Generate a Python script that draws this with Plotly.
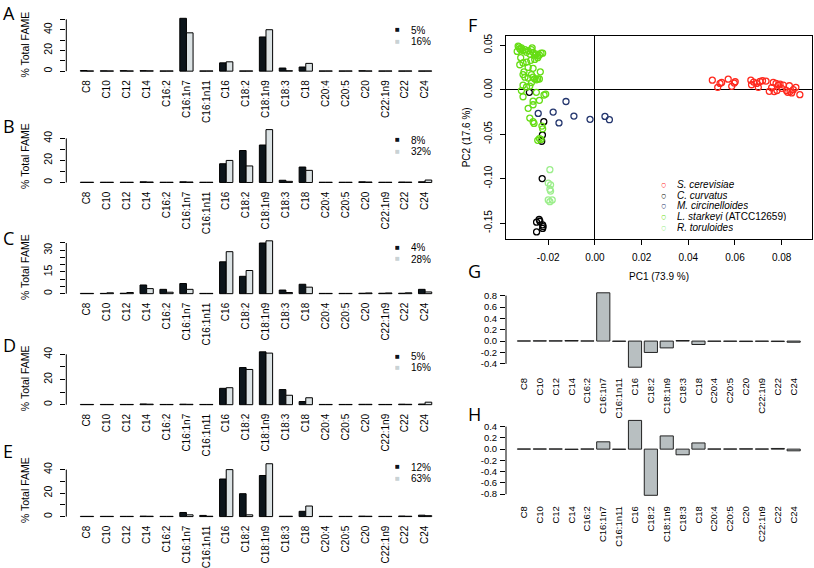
import plotly.graph_objects as go

W, H = 814, 568

# ---------------- data ----------------
categories = ["C8", "C10", "C12", "C14", "C16:2", "C16:1n7", "C16:1n11", "C16", "C18:2",
              "C18:1n9", "C18:3", "C18", "C20:4", "C20:5", "C20", "C22:1n9", "C22", "C24"]

A_labels = ["5%", "16%"]
A_low = [0.6, 0.3, 0.5, 0.5, 0.2, 51, 0.2, 8, 0.2, 33, 3, 4, 0.2, 0.2, 0.4, 0.2, 0.2, 0.2]
A_high = [0.2, 0.2, 0.2, 0.3, 0.2, 37, 0.2, 9, 0.2, 40, 0.4, 7.5, 0.2, 0.2, 0.2, 0.2, 0.2, 0.2]

B_labels = ["8%", "32%"]
B_low = [0.2, 0.2, 0.2, 0.6, 0.2, 0.6, 0.2, 17, 29, 34, 2, 14, 0.2, 0.2, 0.6, 0.2, 0.4, 0.6]
B_high = [0.2, 0.2, 0.2, 0.4, 0.2, 0.4, 0.2, 20, 15, 48, 1, 11, 0.2, 0.2, 0.4, 0.2, 0.3, 2.2]

C_labels = ["4%", "28%"]
C_low = [0.2, 0.2, 0.3, 6, 3, 7, 0.2, 22, 12, 35, 2.5, 6.5, 0.2, 0.2, 0.3, 0.3, 0.3, 3]
C_high = [0.2, 0.6, 0.8, 3.5, 1, 3, 0.2, 29, 16, 36.5, 0.8, 4.5, 0.2, 0.2, 0.5, 0.5, 0.6, 1.2]

D_labels = ["5%", "16%"]
D_low = [0.2, 0.2, 0.2, 0.6, 0.2, 0.4, 0.2, 13, 29.5, 42, 12, 2.5, 0.2, 0.2, 0.3, 0.2, 0.4, 0.5]
D_high = [0.2, 0.2, 0.2, 0.4, 0.2, 0.3, 0.2, 13.5, 28, 41, 7.5, 5.5, 0.2, 0.2, 0.3, 0.2, 0.3, 2]

E_labels = ["12%", "63%"]
E_low = [0.2, 0.2, 0.2, 0.4, 0.2, 3.5, 1, 32, 19.5, 35, 0.3, 4.5, 0.2, 0.2, 0.4, 0.2, 0.5, 1.2]
E_high = [0.2, 0.2, 0.2, 0.3, 0.2, 1.5, 0.3, 40, 1.5, 45, 0.3, 9, 0.2, 0.2, 0.3, 0.2, 0.3, 0.8]

A_ticks = [0, 10, 20, 30, 40, 50]
B_ticks = [0, 10, 20, 30, 40]
C_ticks = [0, 5, 10, 15, 20, 25, 30, 35]
D_ticks = [0, 10, 20, 30, 40]
E_ticks = [0, 10, 20, 30, 40]
A_ticklabels = ["0", "", "20", "", "40", ""]
B_ticklabels = ["0", "", "20", "", "40"]
C_ticklabels = ["0", "", "", "15", "", "", "30", ""]
D_ticklabels = ["0", "", "20", "", "40"]
E_ticklabels = ["0", "", "20", "", "40"]

# PCA scores (F)
species = ["S. cerevisiae", "C. curvatus", "M. circinelloides", "L. starkeyi", "R. toruloides"]
species_suffix = ["", "", "", " (ATCC12659)", ""]

scer_pc1 = [0.0503, 0.0526, 0.0536, 0.0543, 0.0571, 0.0586, 0.0597, 0.0601, 0.0668, 0.0671,
            0.0680, 0.0693, 0.0700, 0.0707, 0.0718, 0.0733, 0.0747, 0.0757, 0.0764, 0.0768,
            0.0776, 0.0780, 0.0786, 0.0793, 0.0800, 0.0807, 0.0821, 0.0826, 0.0833, 0.0836,
            0.0843, 0.0850, 0.0861, 0.0878]
scer_pc2 = [0.0107, 0.0026, 0.0070, 0.0081, 0.0118, 0.0037, 0.0074, 0.0089, 0.0107, 0.0055,
            0.0085, 0.0070, 0.0026, 0.0092, 0.0100, 0.0096, -0.0019, 0.0022, 0.0081, -0.0022,
            0.0070, -0.0010, 0.0052, 0.0063, 0.0015, 0.0052, -0.0011, -0.0030, 0.0044, -0.0022,
            -0.0037, 0.0000, 0.0026, -0.0056]

ccur_pc1 = [-0.0281, -0.0219, -0.0225, -0.0228, -0.0226, -0.0239, -0.0250, -0.0236, -0.0224,
            -0.0222, -0.0224, -0.0250]
ccur_pc2 = [-0.003, -0.036, -0.051, -0.058, -0.100, -0.146, -0.149, -0.148, -0.152,
            -0.154, -0.156, -0.160]

mcir_pc1 = [-0.0243, -0.0179, -0.0154, -0.0124, -0.0090, -0.0021, 0.0043, 0.0062]
mcir_pc2 = [-0.0267, -0.0252, -0.0374, -0.0133, -0.0297, -0.0334, -0.0301, -0.0338]

lsta_pc1 = [-0.0329, -0.0325, -0.0322, -0.0318, -0.0333, -0.0315, -0.0308, -0.0300, -0.0293,
            -0.0286, -0.0279, -0.0272, -0.0269, -0.0265, -0.0258, -0.0251, -0.0245, -0.0238,
            -0.0231, -0.0224, -0.0245, -0.0258, -0.0275, -0.0293, -0.0308, -0.0318, -0.0322,
            -0.0304, -0.0308, -0.0300, -0.0286, -0.0272, -0.0265, -0.0258, -0.0251, -0.0245,
            -0.0238, -0.0272, -0.0279, -0.0293, -0.0308, -0.0315, -0.0308, -0.0251, -0.0238,
            -0.0211, -0.0218, -0.0265, -0.0265, -0.0286, -0.0279, -0.0265, -0.0261, -0.0227,
            -0.0224, -0.0238, -0.0231, -0.0245, -0.0234, -0.0265, -0.0286]
lsta_pc2 = [0.049, 0.048, 0.046, 0.045, 0.043, 0.047, 0.044, 0.045, 0.042,
            0.044, 0.040, 0.045, 0.047, 0.042, 0.039, 0.040, 0.038, 0.039,
            0.041, 0.041, 0.036, 0.034, 0.033, 0.031, 0.030, 0.036, 0.028,
            0.020, 0.017, 0.014, 0.013, 0.017, 0.014, 0.012, 0.011, 0.012,
            0.012, 0.008, 0.004, 0.003, 0.005, -0.001, -0.008, -0.003, -0.012,
            -0.005, -0.006, -0.013, -0.017, -0.021, -0.032, -0.036, -0.038, -0.041,
            -0.044, -0.055, -0.056, -0.057, 0.020, 0.024, 0.025]

rtor_pc1 = [-0.0193, -0.0200, -0.0190, -0.0193, -0.0190, -0.0200, -0.0183, -0.0193]
rtor_pc2 = [-0.090, -0.105, -0.107, -0.112, -0.114, -0.124, -0.124, -0.126]

x_ticks_F = [-0.02, 0.00, 0.02, 0.04, 0.06, 0.08]
y_ticks_F = [-0.15, -0.10, -0.05, 0.00, 0.05]

# Loadings (G, H)
G_load = [0.003, 0.005, 0.005, 0.01, 0.003, 0.85, -0.005, -0.46, -0.2, -0.12, 0.01, -0.06,
          -0.004, -0.004, -0.008, -0.004, -0.008, -0.02]
H_load = [0.003, 0.004, 0.004, -0.006, 0.003, 0.13, -0.004, 0.51, -0.82, 0.235, -0.1, 0.11,
          0.003, 0.003, 0.006, 0.003, 0.012, -0.03]
G_ticks = [-0.4, -0.2, 0.0, 0.2, 0.4, 0.6, 0.8]
H_ticks = [-0.8, -0.6, -0.4, -0.2, 0.0, 0.2, 0.4]

# ---------------- style ----------------
FONT = "Liberation Sans, Arial, sans-serif"
DARK = "#0c151b"
LIGHT = "#dce3e5"
LOAD_FILL = "#b8bfc1"
SP_COLORS = ["#ff2a1f", "#000000", "#24366e", "#66dd14", "#9cee8c"]


def xd(l, r):
    return [l / W, r / W]


def yd(top, bot):
    return [1 - bot / H, 1 - top / H]


fig = go.Figure()
layout = dict(width=W, height=H, margin=dict(l=0, r=0, t=0, b=0), autosize=False,
              paper_bgcolor="white", plot_bgcolor="white", barmode="overlay",
              showlegend=False, font=dict(family=FONT, size=10, color="black"))
annotations = []
shapes = []

# (letter, legend labels, low, high, ticks, ticklabels, zero px, px per unit, y range,
#  legend row1 px, legend row2 px, letter px)
bar_panels = [
    ("A", A_labels, A_low, A_high, A_ticks, A_ticklabels, 69.0, 1.049, [-2.04, 53.04], 27, 38.5, 10),
    ("B", B_labels, B_low, B_high, B_ticks, B_ticklabels, 181.7, 1.115, [-1.92, 49.92], 138.5, 150, 125),
    ("C", C_labels, C_low, C_high, C_ticks, C_ticklabels, 294.3, 1.466, [-1.46, 37.96], 247.5, 259, 238),
    ("D", D_labels, D_low, D_high, D_ticks, D_ticklabels, 406.7, 1.274, [-1.68, 43.68], 357.5, 369, 346),
    ("E", E_labels, E_low, E_high, E_ticks, E_ticklabels, 520.0, 1.189, [-1.8, 46.8], 469.5, 481, 454),
]

for i, (letter, labs, lo, hi, tv, tt, zero, ppu, yr, ly1, ly2, lety) in enumerate(bar_panels, start=1):
    xa = "x" if i == 1 else f"x{i}"
    ya = "y" if i == 1 else f"y{i}"
    fig.add_trace(go.Bar(x=categories, y=lo, name=labs[0], xaxis=xa, yaxis=ya,
                         width=1 / 3, offset=-1 / 3,
                         marker=dict(color=DARK, line=dict(color="black", width=1))))
    fig.add_trace(go.Bar(x=categories, y=hi, name=labs[1], xaxis=xa, yaxis=ya,
                         width=1 / 3, offset=0,
                         marker=dict(color=LIGHT, line=dict(color="black", width=1))))
    top = zero - yr[1] * ppu
    bot = zero - yr[0] * ppu
    key = "" if i == 1 else str(i)
    layout["xaxis" + key] = dict(domain=xd(66.3, 445.8), anchor=ya, type="category",
                                 categoryorder="array", categoryarray=categories,
                                 range=[-1.04, 18.04], showline=False, showgrid=False,
                                 zeroline=False, ticks="", tickangle=-90,
                                 tickfont=dict(size=10), ticklabelstandoff=4)
    layout["yaxis" + key] = dict(domain=yd(top, bot), anchor=xa, range=yr,
                                 tickmode="array", tickvals=tv, ticktext=tt,
                                 tickangle=-90, ticks="outside", ticklen=5, tickwidth=1,
                                 tickcolor="black", showline=False, showgrid=False,
                                 zeroline=False, tickfont=dict(size=10.5),
                                 ticklabelstandoff=4,
                                 title=dict(text="% Total FAME", font=dict(size=10.5), standoff=10))
    shapes.append(dict(type="line", xref=f"{xa} domain", yref=ya, x0=0, x1=0,
                       y0=tv[0], y1=tv[-1], line=dict(color="black", width=1)))
    annotations.append(dict(text=letter, x=1 / W, y=1 - lety / H, xref="paper", yref="paper",
                            xanchor="left", yanchor="middle", showarrow=False,
                            font=dict(family="Open Sans, sans-serif", size=18)))
    for lab, col, ly in ((labs[0], DARK, ly1), (labs[1], "#c9d2d4", ly2)):
        annotations.append(dict(text=f"<span style='color:{col};font-size:8px'>■</span>",
                                x=397 / W, y=1 - ly / H, xref="paper", yref="paper",
                                xanchor="center", yanchor="middle", showarrow=False,
                                height=9, borderpad=0))
        annotations.append(dict(text=lab, x=410 / W, y=1 - ly / H, xref="paper", yref="paper",
                                xanchor="left", yanchor="middle", showarrow=False,
                                font=dict(size=10), height=10, borderpad=0))

# ---------------- F: PCA scores ----------------
sp_x = [scer_pc1, ccur_pc1, mcir_pc1, lsta_pc1, rtor_pc1]
sp_y = [scer_pc2, ccur_pc2, mcir_pc2, lsta_pc2, rtor_pc2]
for name, sx, sy, col in zip(species, sp_x, sp_y, SP_COLORS):
    fig.add_trace(go.Scatter(x=sx, y=sy, name=name, mode="markers", xaxis="x6", yaxis="y6",
                             marker=dict(symbol="circle-open", size=6, color=col,
                                         line=dict(width=1.3, color=col))))

layout["xaxis6"] = dict(domain=xd(506, 812), anchor="y6", range=[-0.0381, 0.0930],
                        tickmode="array", tickvals=x_ticks_F,
                        ticktext=[f"{v:.2f}" for v in x_ticks_F],
                        ticks="outside", ticklen=5, tickcolor="black", showline=True,
                        linecolor="black", linewidth=1, mirror=True, showgrid=False,
                        zeroline=True, zerolinecolor="black", zerolinewidth=1,
                        tickfont=dict(size=10), ticklabelstandoff=4,
                        title=dict(text="PC1 (73.9 %)", font=dict(size=10), standoff=10))
layout["yaxis6"] = dict(domain=yd(33, 239), anchor="x6", range=[-0.168, 0.0608],
                        tickmode="array", tickvals=y_ticks_F,
                        ticktext=[f"{v:.2f}" for v in y_ticks_F], tickangle=-90,
                        ticks="outside", ticklen=5, tickcolor="black", showline=True,
                        linecolor="black", linewidth=1, mirror=True, showgrid=False,
                        zeroline=True, zerolinecolor="black", zerolinewidth=1,
                        tickfont=dict(size=10), ticklabelstandoff=4,
                        title=dict(text="PC2 (17.6 %)", font=dict(size=10), standoff=10))

leg_rows = [183.3, 194, 204.8, 215.6, 226.4]
for name, suf, col, ly in zip(species, species_suffix, SP_COLORS, leg_rows):
    annotations.append(dict(text=f"<span style='color:{col}'>○</span>",
                            x=664 / W, y=1 - ly / H, xref="paper", yref="paper",
                            xanchor="center", yanchor="middle", showarrow=False,
                            font=dict(size=9.5), height=10, borderpad=0))
    annotations.append(dict(text=f"<i>{name}</i>{suf}", x=676 / W, y=1 - ly / H,
                            xref="paper", yref="paper", xanchor="left", yanchor="middle",
                            showarrow=False, font=dict(size=10), height=10, borderpad=0))

annotations.append(dict(text="F", x=466 / W, y=1 - 22 / H, xref="paper", yref="paper",
                        xanchor="left", yanchor="middle", showarrow=False,
                        font=dict(family="Open Sans, sans-serif", size=18)))

# ---------------- G, H: loadings ----------------
load_panels = [
    ("G", G_load, G_ticks, 342.3, 57.5, [-0.51, 0.90], 271, 7),
    ("H", H_load, H_ticks, 451.7, 57.0, [-0.873, 0.563], 416, 8),
]
for letter, vals, tv, zero, ppu, yr, lety, idx in load_panels:
    xa, ya = f"x{idx}", f"y{idx}"
    fig.add_trace(go.Bar(x=categories, y=vals, name=letter, xaxis=xa, yaxis=ya,
                         width=0.83, offset=-0.415,
                         marker=dict(color=LOAD_FILL, line=dict(color="#222222", width=1))))
    top = zero - yr[1] * ppu
    bot = zero - yr[0] * ppu
    layout[f"xaxis{idx}"] = dict(domain=xd(506, 811.6), anchor=ya, type="category",
                                 categoryorder="array", categoryarray=categories,
                                 range=[-1.13, 18.13], showline=False, showgrid=False,
                                 zeroline=False, ticks="", tickangle=-90,
                                 tickfont=dict(size=9.5), ticklabelstandoff=5)
    layout[f"yaxis{idx}"] = dict(domain=yd(top, bot), anchor=xa, range=yr,
                                 tickmode="array", tickvals=tv,
                                 ticktext=[f"{v:.1f}" for v in tv],
                                 ticks="outside", ticklen=5, tickcolor="black",
                                 showline=False, showgrid=False, zeroline=False,
                                 tickfont=dict(size=9.5), ticklabelstandoff=1)
    shapes.append(dict(type="line", xref=f"{xa} domain", yref=ya, x0=0, x1=0,
                       y0=tv[0], y1=tv[-1], line=dict(color="black", width=1)))
    annotations.append(dict(text=letter, x=466 / W, y=1 - lety / H, xref="paper", yref="paper",
                            xanchor="left", yanchor="middle", showarrow=False,
                            font=dict(family="Open Sans, sans-serif", size=18)))

layout["annotations"] = annotations
layout["shapes"] = shapes
fig.update_layout(**layout)
fig.write_html("out.html",
               post_script="document.body.style.margin='0';document.body.style.overflow='hidden';",
               config={"displayModeBar": False})
